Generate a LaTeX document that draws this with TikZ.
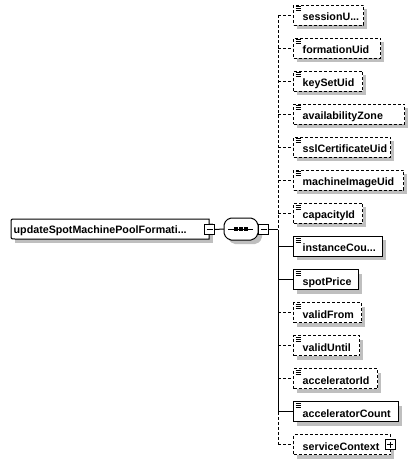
\documentclass[tikz,border=0pt]{standalone}
\usepackage{fontspec}
\setmainfont{Liberation Sans}
\tikzset{
  shadowc/.style={fill=black!25},
  dsh/.style={dash pattern=on 3pt off 2pt},
  sld/.style={solid},
  elbox/.style={draw, fill=white, line width=1pt, minimum height=20pt, inner sep=0pt, anchor=west},
  lbl/.style={anchor=base west, inner sep=0pt, font=\bfseries\fontsize{10.7}{12}\selectfont},
  conn/.style={line width=1pt},
  sbox/.style={draw, fill=white, line width=1pt, minimum size=10pt, inner sep=0pt},
  iconl/.style={line width=0.8pt}
}
\newcommand\xel[6]{%
  \pgfmathsetmacro\cy{15+33.07*#2}%
  \pgfmathsetmacro\bw{#3-293}%
  \fill[shadowc] (297,\cy-6) rectangle (#3+4,\cy+14);
  \coordinate (#1j) at (278,\cy);
  \node[elbox,#5,minimum width=\bw pt] (#1) at (293,\cy) {};
  \draw[conn,#5] (#1j) -- (#1.west);
  \node[lbl] (#1t) at (302.5,\cy+5.5) {#4};
  \ifnum#6=1
    \draw[iconl] (295.5,\cy-8.5) -- (301,\cy-8.5);
    \draw[iconl] (295.5,\cy-6.5) -- (301,\cy-6.5);
    \draw[iconl] (295.5,\cy-4.5) -- (301,\cy-4.5);
  \fi
}
\begin{document}
\begin{tikzpicture}[x=1pt,y=-1pt]
\useasboundingbox (0,0) rectangle (417,464);
% root element
\fill[shadowc] (15,223) rectangle (213,243);
\node[minimum width=198pt, minimum height=20pt, inner sep=0pt, anchor=west] (root) at (11,229) {};
\draw[line width=1pt, fill=white] (209,219) -- (15,219) .. controls (11,219) .. (11,223) -- (11,235) .. controls (11,239) .. (15,239) -- (209,239) -- cycle;
\node[lbl] (roott) at (13.5,233.5) {updateSpotMachinePoolFormati...};
% sequence compositor
\fill[shadowc, rounded corners=2pt] (233,222) -- (257,222) -- (262,227) -- (262,239) -- (257,244) -- (233,244) -- (228,239) -- (228,227) -- cycle;
\node[minimum width=34pt, minimum height=22pt, inner sep=0pt] (seq) at (241,229) {};
\draw[line width=1pt, fill=white, rounded corners=2pt] (229,218) -- (253,218) -- (258,223) -- (258,235) -- (253,240) -- (229,240) -- (224,235) -- (224,223) -- cycle;
\draw[line width=1pt] (228,229) -- (253,229);
\fill (234.2,227.2) rectangle +(3.6,3.6);
\fill (239.2,227.2) rectangle +(3.6,3.6);
\fill (244.2,227.2) rectangle +(3.6,3.6);
% minus boxes
\node[sbox] (rm) at (209.5,229.5) {};
\draw[line width=1pt] (206.5,229.5) -- (212.5,229.5);
\node[sbox] (sm) at (263.5,229.5) {};
\draw[line width=1pt] (260.5,229.5) -- (266.5,229.5);
\coordinate (jm) at (278,229.5);
\draw[conn] (rm.east) -- (seq.west);
\draw[conn] (sm.east) -- (jm);
% children
\xel{e0}{0}{363}{sessionU...}{dsh}{1}
\xel{e1}{1}{380}{formationUid}{dsh}{1}
\xel{e2}{2}{362}{keySetUid}{dsh}{1}
\xel{e3}{3}{404}{availabilityZone}{dsh}{1}
\xel{e4}{4}{390}{sslCertificateUid}{dsh}{1}
\xel{e5}{5}{403}{machineImageUid}{dsh}{1}
\xel{e6}{6}{362}{capacityId}{dsh}{1}
\xel{e7}{7}{382}{instanceCou...}{sld}{1}
\xel{e8}{8}{358}{spotPrice}{sld}{1}
\xel{e9}{9}{361}{validFrom}{dsh}{1}
\xel{e10}{10}{359}{validUntil}{dsh}{1}
\xel{e11}{11}{377}{acceleratorId}{dsh}{1}
\xel{e12}{12}{398}{acceleratorCount}{sld}{1}
\xel{e13}{13}{390}{serviceContext}{dsh}{0}
% vertical spine
\draw[conn,dsh] (e0j) -- (jm);
\draw[conn] (jm) -- (e12j);
\draw[conn,dsh] (e12j) -- (e13j);
% plus box
\node[sbox] (pc) at (390,444.9) {};
\draw[line width=1pt] (387,444.9) -- (393,444.9) (390,441.9) -- (390,447.9);
\end{tikzpicture}
\end{document}
